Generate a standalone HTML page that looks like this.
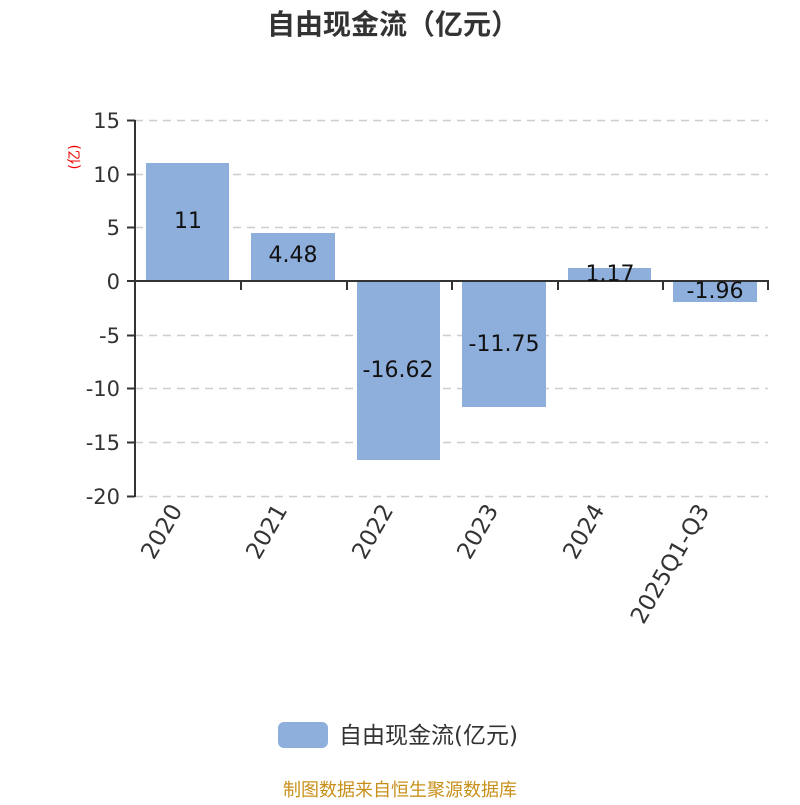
<!DOCTYPE html>
<html><head><meta charset="utf-8"><style>body{margin:0;background:#fff}</style></head>
<body>
<svg width="800" height="800" xmlns="http://www.w3.org/2000/svg" font-family="DejaVu Sans, Noto Sans CJK SC, sans-serif">
<rect width="800" height="800" fill="#fff"/>
<text x="393" y="34" text-anchor="middle" font-size="28" font-weight="bold" fill="#333" font-family="Noto Sans CJK SC, sans-serif">自由现金流（亿元）</text>
<g stroke="#ccc" stroke-width="1.5" stroke-dasharray="8,6">
<line x1="135" y1="120.5" x2="768" y2="120.5"/>
<line x1="135" y1="174.5" x2="768" y2="174.5"/>
<line x1="135" y1="227.5" x2="768" y2="227.5"/>
<line x1="135" y1="335.5" x2="768" y2="335.5"/>
<line x1="135" y1="388.5" x2="768" y2="388.5"/>
<line x1="135" y1="442.5" x2="768" y2="442.5"/>
<line x1="135" y1="496.5" x2="768" y2="496.5"/>
</g>
<g fill="#8eaedb">
<rect x="146" y="163" width="83" height="118"/>
<rect x="251" y="233" width="84" height="48"/>
<rect x="357" y="281" width="83" height="179"/>
<rect x="462" y="281" width="84" height="126"/>
<rect x="568" y="268" width="83" height="13"/>
<rect x="673" y="281" width="84" height="21"/>
</g>
<g stroke="#333" stroke-width="2">
<line x1="135" y1="120" x2="135" y2="497"/>
<line x1="127" y1="120.5" x2="135" y2="120.5"/>
<line x1="127" y1="174.5" x2="135" y2="174.5"/>
<line x1="127" y1="227.5" x2="135" y2="227.5"/>
<line x1="127" y1="281" x2="135" y2="281"/>
<line x1="127" y1="335.5" x2="135" y2="335.5"/>
<line x1="127" y1="388.5" x2="135" y2="388.5"/>
<line x1="127" y1="442.5" x2="135" y2="442.5"/>
<line x1="127" y1="496.5" x2="135" y2="496.5"/>
<line x1="135" y1="281" x2="769" y2="281"/>
<line x1="241" y1="281" x2="241" y2="290"/>
<line x1="347" y1="281" x2="347" y2="290"/>
<line x1="452" y1="281" x2="452" y2="290"/>
<line x1="558" y1="281" x2="558" y2="290"/>
<line x1="663" y1="281" x2="663" y2="290"/>
<line x1="768" y1="281" x2="768" y2="290"/>
</g>
<g font-size="21" fill="#333" text-anchor="end">
<text x="120" y="128">15</text>
<text x="120" y="182">10</text>
<text x="120" y="235">5</text>
<text x="120" y="289">0</text>
<text x="120" y="343">-5</text>
<text x="120" y="396">-10</text>
<text x="120" y="450">-15</text>
<text x="120" y="504">-20</text>
</g>
<text transform="translate(79,157) rotate(-90)" font-size="14" fill="#e00" text-anchor="middle">(亿)</text>
<g font-size="22" fill="#111" text-anchor="middle">
<text x="188" y="228">11</text>
<text x="293" y="262">4.48</text>
<text x="398" y="377">-16.62</text>
<text x="504" y="351">-11.75</text>
<text x="610" y="281">1.17</text>
<text x="715" y="298">-1.96</text>
</g>
<g font-size="23" fill="#333" text-anchor="end">
<text transform="translate(183,510) rotate(-60)">2020</text>
<text transform="translate(288,510) rotate(-60)">2021</text>
<text transform="translate(394,510) rotate(-60)">2022</text>
<text transform="translate(499,510) rotate(-60)">2023</text>
<text transform="translate(605,510) rotate(-60)">2024</text>
<text transform="translate(710,510) rotate(-60)">2025Q1-Q3</text>
</g>
<rect x="278" y="722" width="50" height="26" rx="6" fill="#8eaedb"/>
<text x="339" y="743" font-size="23" fill="#333">自由现金流(亿元)</text>
<text x="400" y="796" font-size="18" fill="#c8901a" text-anchor="middle">制图数据来自恒生聚源数据库</text>
</svg>
</body></html>
